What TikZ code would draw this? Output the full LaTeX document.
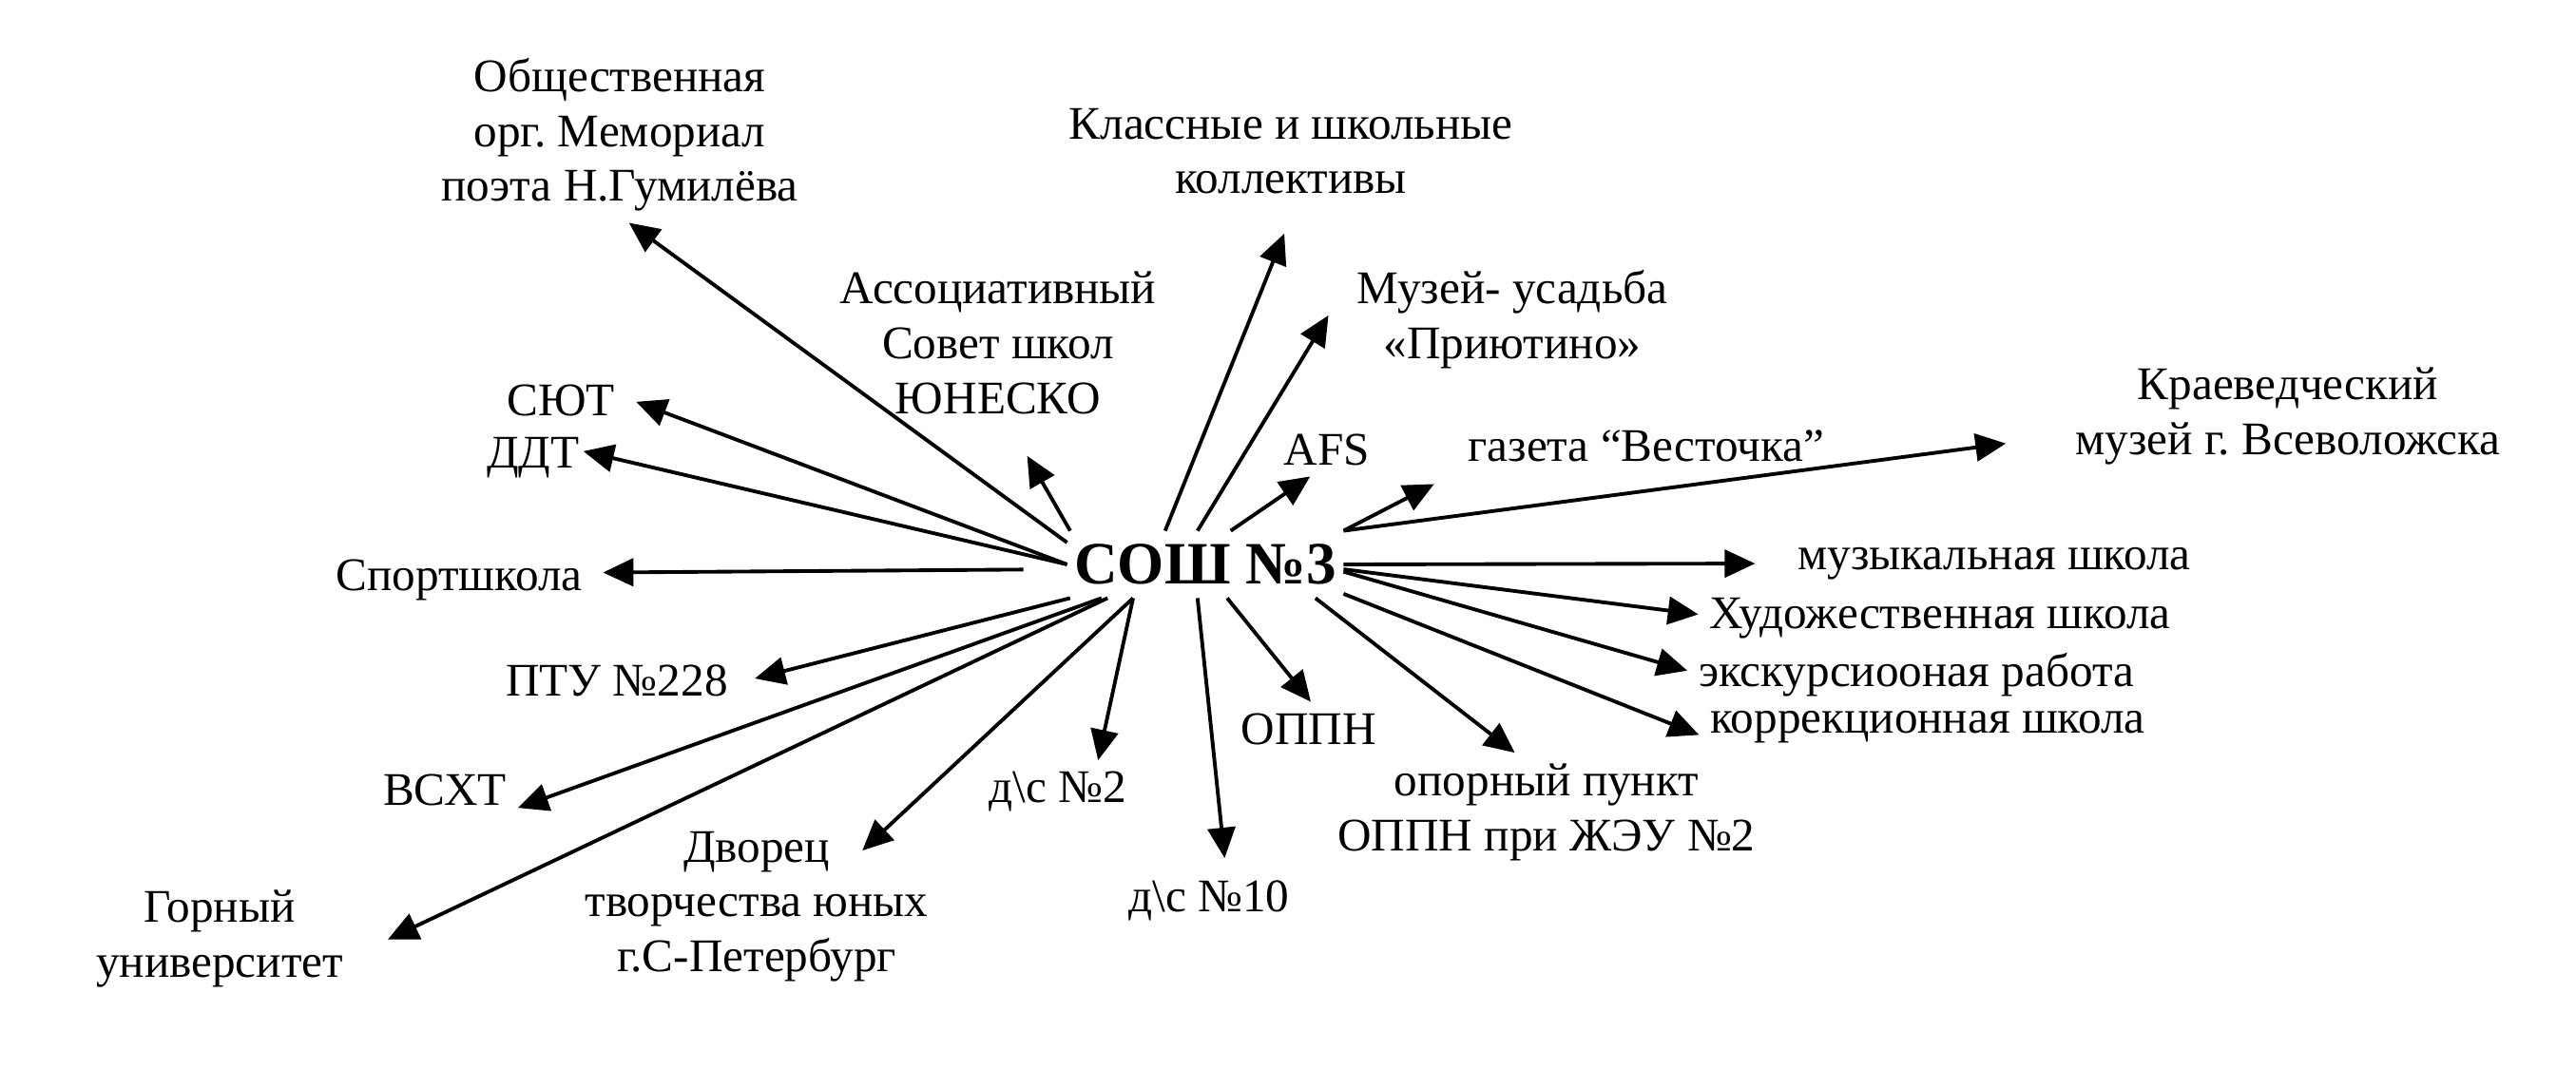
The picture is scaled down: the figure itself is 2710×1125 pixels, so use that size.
\documentclass[tikz,border=0pt]{standalone}
\usepackage{fontspec}
\setmainfont{Liberation Serif}
\frenchspacing
\usetikzlibrary{arrows.meta}

\begin{document}
\begin{tikzpicture}[
        x=0.1mm, y=-0.1mm,
        line width=1.1pt,
        >={Triangle[length=3.2mm,width=2.9mm]},
        hub/.style={font=\bfseries\fontsize{18pt}{20pt}\selectfont, minimum width=28.7mm, minimum height=6.7mm, inner sep=0pt},
        org/.style={align=center, inner sep=1mm, font=\fontsize{14pt}{16.4pt}\selectfont\frenchspacing}
    ]
        \useasboundingbox (0,0) rectangle (2710,1125);

        \node[hub] (school) at (1268,594) {СОШ №3};

        \node[org] (memorial) at (652,142) {Общественная\\орг. Мемориал\\поэта Н.Гумилёва};
        \node[org] (classes) at (1358,159) {Классные и школьные\\коллективы};
        \node[org] (unesco) at (1050,361) {Ассоциативный\\Совет школ\\ЮНЕСКО};
        \node[org] (priyutino) at (1591,336) {Музей- усадьба\\«Приютино»};
        \node[org] (syut) at (590,421) {СЮТ};
        \node[org] (ddt) at (561,482) {ДДТ};
        \node[org] (afs) at (1396,473) {AFS};
        \node[org] (gazeta) at (1732,469) {газета “Весточка”};
        \node[org] (museum) at (2407,438) {Краеведческий\\музей г. Всеволожска};
        \node[org] (sport) at (483,610) {Спортшкола};
        \node[org] (music) at (2098,593) {музыкальная школа};
        \node[org] (art) at (2041,651) {Художественная школа};
        \node[org] (excursion) at (2016,710) {экскурсиооная работа};
        \node[org] (correction) at (2028,765) {коррекционная школа};
        \node[org] (oppn) at (1377,767) {ОППН};
        \node[org] (oppnpoint) at (1627,855) {опорный пункт\\ОППН при ЖЭУ №2};
        \node[org] (kinder2) at (1113,833) {д\textbackslash с №2};
        \node[org] (kinder10) at (1272,948) {д\textbackslash с №10};
        \node[org] (palace) at (796,954) {Дворец\\творчества юных\\г.С-Петербург};
        \node[org] (vskht) at (468,831) {ВСХТ};
        \node[org] (ptu) at (649,716) {ПТУ №228};
        \node[org] (mining) at (231,988) {Горный\\университет};

        \draw[->] (school.171) -- (memorial.-84);
        \draw[->, shorten >=3.2mm] (school.140) -- (classes.-85);
        \draw[->, shorten >=3.7mm] (school.166) -- (unesco.-82);
        \draw[->, shorten >=3.5mm] (school.103) -- (priyutino.169);
        \draw[->, shorten >=1.2mm] (school.west) -- (syut.2);
        \draw[->, shorten >=-0.8mm] (school.west) -- (ddt.5);
        \draw[->] (school.53) -- (afs.-122);
        \draw[->, shorten >=2.7mm] (school.north east) -- (gazeta.-172);
        \draw[->, shorten >=6.2mm] (school.north east) -- (museum.-175);
        \draw[->, shorten <=4.6mm, shorten >=1mm] (school.182) -- (sport.3);
        \draw[->, shorten >=3.3mm] (school.east) -- (music.west);
        \draw[->] (school.-2) -- (art.179);
        \draw[->] (school.-3) -- (excursion.179);
        \draw[->] (school.-12) -- (correction.-178);
        \draw[->] (school.-57) -- (oppn.86);
        \draw[->] (school.-17) -- (oppnpoint.118);
        \draw[->] (school.-155) -- (kinder2.38);
        \draw[->, shorten >=1.2mm] (school.-103) -- (kinder10.62);
        \draw[->, shorten >=-4.7mm] (school.-155) -- (palace.32);
        \draw[->] (school.-162) -- (vskht.-14);
        \draw[->, shorten >=1.7mm] (school.-166) -- (ptu.-1);
        \draw[->, shorten >=3.9mm] (school.-161) -- (mining.-7);
    \end{tikzpicture}
\end{document}
